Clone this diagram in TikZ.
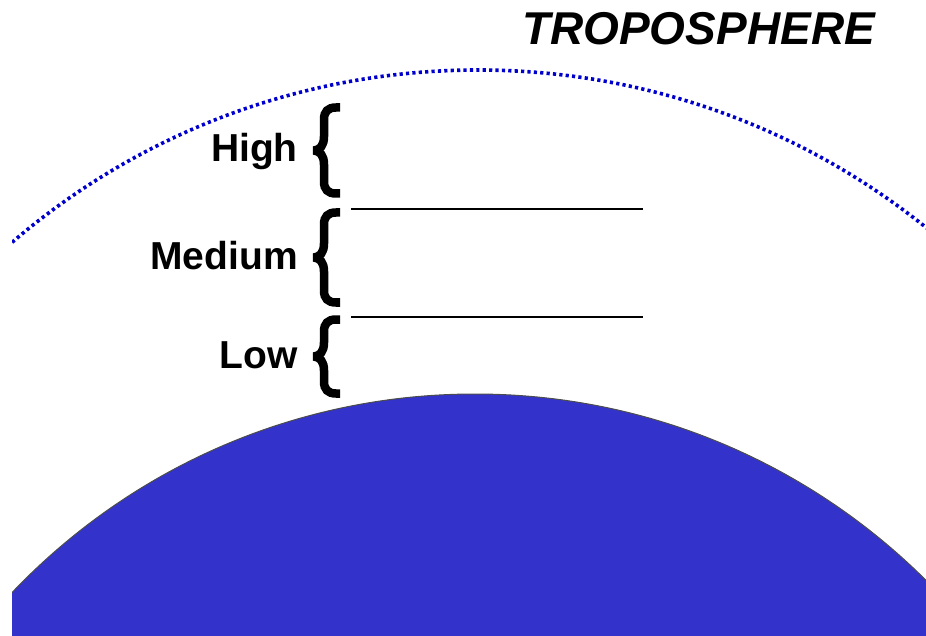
\documentclass[tikz,border=0pt]{standalone}
\usepackage{fontspec}
\setmainfont{Liberation Sans}
\definecolor{earthblue}{RGB}{51,51,204}
\definecolor{dotblue}{RGB}{0,0,205}
\newcommand\drawbrace[2]{%
  \pgfmathsetmacro\bt{#1+4.5}%
  \pgfmathsetmacro\bb{#2-4.5}%
  \pgfmathsetmacro\bm{(#1+#2)/2}%
  \draw[bracestyle] (340,\bt) -- (336,\bt)
    .. controls (328,\bt) and (324,{\bt+4}) .. (324,{\bt+12})
    -- (324,{\bm-14})
    .. controls (324,{\bm-5}) and (320,{\bm-0.5}) .. (314,\bm)
    .. controls (320,{\bm+0.5}) and (324,{\bm+5}) .. (324,{\bm+14})
    -- (324,{\bb-12})
    .. controls (324,{\bb-4}) and (328,\bb) .. (336,\bb) -- (340,\bb);}
\begin{document}
\begin{tikzpicture}[x=1pt,y=-1pt,
  bracestyle/.style={line width=8.5pt,black,line join=miter,miter limit=3},
  label/.style={font=\fontsize{39}{39}\selectfont\bfseries,inner sep=0pt,anchor=base east},
  levelline/.style={line width=2.8pt,black},
  atmos/.style={dotblue,line width=3.6pt,dash pattern=on 3.2pt off 3.2pt}]
\useasboundingbox (0,0) rectangle (926,636);
\begin{scope}
  \clip (12,0) rectangle (926,636);
  \draw[atmos] (478,786) circle[radius=716];
  \fill[earthblue,draw=black!70,line width=1pt] (475,1033) circle[radius=639];
\end{scope}
\node[inner sep=0pt,anchor=base west,font=\fontsize{46}{46}\selectfont\bfseries\itshape] (tropo) at (522,45) {TROPOSPHERE};
\node[label] (high) at (298,162) {High};
\node[label] (medium) at (298,270) {Medium};
\node[label] (low) at (298,368) {Low};
\coordinate (l1a) at (351,209);
\coordinate (l1b) at (643,209);
\coordinate (l2a) at (351,317);
\coordinate (l2b) at (643,317);
\draw[levelline] (l1a) -- (l1b);
\draw[levelline] (l2a) -- (l2b);
\drawbrace{103}{198}
\drawbrace{208}{307}
\drawbrace{315}{398}
\end{tikzpicture}
\end{document}
